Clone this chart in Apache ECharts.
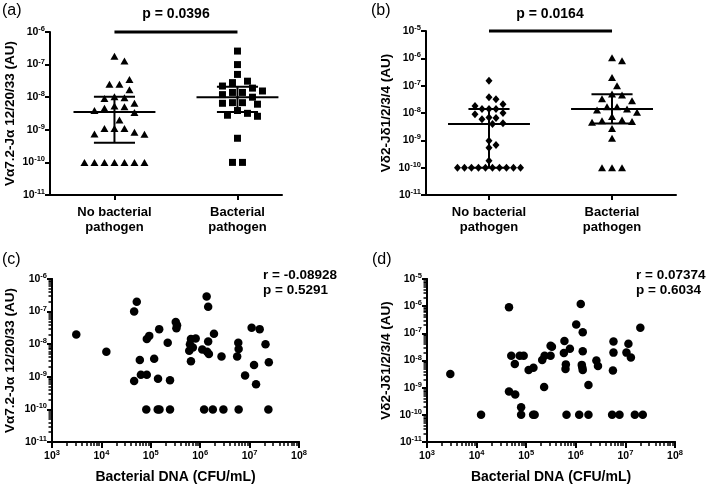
<!DOCTYPE html>
<html><head><meta charset="utf-8">
<script src="https://cdn.jsdelivr.net/npm/echarts@6/dist/echarts.min.js"></script>
<style>html,body{margin:0;padding:0;background:#fff}#c{width:709px;height:488px}</style>
</head><body><div id="c"></div>
<script>
// ---------- data ----------
const categories = ['No bacterial\npathogen', 'Bacterial\npathogen'];

// (a) Va7.2-Ja12/20/33
const aNoBact = [1.8e-7, 1.3e-7, 3.5e-8, 2.5e-8, 2.5e-8, 1.7e-8, 1.03e-8, 9.7e-9, 9.2e-9, 6.5e-9, 5.4e-9, 5.1e-9, 4.6e-9, 3.9e-9, 3.4e-9, 2.0e-9, 1.1e-9, 1.1e-9, 1.1e-9, 8.4e-10, 7.4e-10, 7.3e-10, 1e-10, 1e-10, 1e-10, 1e-10, 1e-10, 1e-10, 1e-10];
const aBact = [2.6e-7, 1.0e-7, 5.0e-8, 3.1e-8, 2.8e-8, 2.2e-8, 1.9e-8, 1.55e-8, 1.4e-8, 1.4e-8, 1.2e-8, 1.0e-8, 6.8e-9, 6.5e-9, 6.1e-9, 6.8e-9, 3.9e-9, 3.2e-9, 2.6e-9, 2.8e-9, 5.5e-10, 1e-10, 1e-10];
const aMedian = [3.5e-9, 1.0e-8];
const aQ1 = [4.0e-10, 3.5e-9];
const aQ3 = [1.03e-8, 2.1e-8];
const aPText = 'p = 0.0396';

// (b) Vd2-Jd1/2/3/4
const bNoBact = [1.5e-7, 3.8e-8, 3.2e-8, 2.1e-8, 1.8e-8, 1.4e-8, 1.4e-8, 1.4e-8, 1.0e-8, 9.0e-9, 6.8e-9, 6.5e-9, 5.9e-9, 4.2e-9, 4.0e-9, 9.6e-10, 6.7e-10, 5.3e-10, 1.8e-10, 1e-10, 1e-10, 1e-10, 1e-10, 1e-10, 1e-10, 1e-10, 1e-10, 1e-10, 1e-10];
const bBact = [1.05e-6, 8.2e-7, 2.0e-7, 1.0e-7, 5.0e-8, 4.6e-8, 3.3e-8, 2.8e-8, 1.7e-8, 1.7e-8, 1.4e-8, 1.3e-8, 1.06e-8, 7.4e-9, 5.5e-9, 5.2e-9, 4.9e-9, 4.6e-9, 2.7e-9, 1.2e-9, 1e-10, 1e-10, 1e-10];
const bMedian = [4.0e-9, 1.4e-8];
const bQ1 = [1.0e-10, 4.1e-9];
const bQ3 = [1.4e-8, 4.9e-8];
const bPText = 'p = 0.0164';

// (c) bacterial DNA vs Va7.2
const cDNA = [3.1e3, 1.26e4, 5.2e4, 4.6e4, 8.3e4, 9.3e4, 1.48e5, 6.0e4, 1.17e5, 2.2e5, 6.3e4, 8.3e4, 4.6e4, 1.4e5, 2.45e5, 3.2e5, 3.4e5, 3.3e5, 6.5e5, 8.1e5, 6.2e5, 7.1e5, 6.0e5, 6.5e5, 1.35e6, 1.45e6, 1.9e6, 1.45e6, 1.1e6, 1.38e6, 1.5e6, 2.7e6, 5.9e6, 6.0e6, 5.6e6, 1.1e7, 1.6e7, 2.1e7, 2.45e7, 1.23e7, 8.1e6, 1.35e7, 8.1e4, 1.38e5, 1.5e5, 2.45e5, 1.2e6, 1.8e6, 2.95e6, 6.0e6, 2.4e7];
const cVal = [2.0e-8, 5.9e-9, 2.0e-7, 1.0e-7, 1.45e-8, 1.8e-8, 2.9e-8, 3.3e-9, 3.6e-9, 1.1e-8, 1.15e-9, 1.15e-9, 7.4e-10, 8.7e-10, 7.8e-10, 4.8e-8, 3.8e-8, 3.1e-8, 1.45e-8, 1.5e-8, 1.0e-8, 7.9e-9, 6.3e-9, 3.0e-9, 2.9e-7, 1.4e-7, 2.1e-8, 1.2e-8, 6.9e-9, 5.9e-9, 5.0e-9, 4.2e-9, 1.1e-8, 7.1e-9, 4.2e-9, 3.2e-8, 2.9e-8, 1.0e-8, 2.8e-9, 2.3e-9, 1.1e-9, 5.9e-10, 1e-10, 1e-10, 1e-10, 1e-10, 1e-10, 1e-10, 1e-10, 1e-10, 1e-10];
const cStats = ['r = -0.08928', 'p = 0.5291'];

// (d) bacterial DNA vs Vd2
const dDNA = [2.95e3, 1.23e4, 4.5e4, 5.0e4, 5.9e4, 7.4e4, 8.9e4, 4.5e4, 6.0e4, 7.9e4, 7.9e4, 1.38e5, 1.48e5, 1.12e5, 1.4e5, 2.1e5, 2.35e5, 3.1e5, 3.1e5, 3.3e5, 2.3e5, 5.9e5, 5.75e5, 6.3e5, 6.2e5, 7.6e5, 6.5e5, 1.26e6, 1.02e6, 1.38e6, 1.38e6, 1.32e6, 1.38e6, 1.35e6, 1.17e6, 1.8e6, 1.8e6, 2.6e6, 2.8e6, 5.75e6, 5.75e6, 5.6e6, 5.4e6, 7.6e6, 1.05e7, 1.15e7, 1.29e7, 2.0e7, 1.55e7, 2.24e7];
const dVal = [3.2e-9, 1e-10, 9.1e-7, 1.5e-8, 7.4e-9, 1.5e-8, 1.5e-8, 7.2e-10, 5.6e-10, 1.9e-10, 1e-10, 1e-10, 1e-10, 4.5e-9, 5.4e-9, 1.05e-8, 1.5e-8, 1.5e-8, 3.5e-8, 3.2e-8, 1.05e-9, 5.2e-8, 1.9e-8, 7.2e-9, 4.9e-9, 2.7e-8, 1e-10, 1.2e-6, 2.1e-7, 1.1e-7, 2.2e-8, 6.9e-9, 4.5e-9, 5.6e-9, 1e-10, 1e-10, 1.26e-9, 1.0e-8, 6.3e-9, 5.0e-8, 1.95e-8, 4.3e-9, 1e-10, 1e-10, 1.95e-8, 4.1e-8, 1.3e-8, 1.6e-7, 1e-10, 1e-10];
const dStats = ['r = 0.07374', 'p = 0.6034'];

// ---------- layout / style ----------
const FONT = 'Liberation Sans, Arial, sans-serif';
const BLACK = '#000';
const G = [
  {left: 50, top: 32, width: 232, height: 163},
  {left: 426, top: 31, width: 250, height: 164},
  {left: 52, top: 279, width: 247, height: 163},
  {left: 427, top: 279, width: 248, height: 163}
];
const PX_PER_CAT = 123;

function swarm(vals, logMin, logMax, hPx, step, minD, center) {
  const y = vals.map(v => hPx * (logMax - Math.log10(v)) / (logMax - logMin));
  const off = vals.map(() => null);
  const placed = [];
  const groups = {};
  vals.forEach((v, i) => { (groups[v] = groups[v] || []).push(i); });
  Object.values(groups).forEach(g => {
    if (g.length > 1) g.forEach((i, k) => { off[i] = (k - (g.length - 1) / 2) * step; placed.push(i); });
  });
  const order = vals.map((v, i) => i).filter(i => off[i] === null).sort((a, b) => y[a] - y[b]);
  order.forEach(i => {
    for (let k = 0; k < 80; k++) {
      const c = (k % 2 === 1 ? 1 : -1) * Math.ceil(k / 2) * step / 2;
      if (placed.every(j => (off[j] - c) ** 2 + (y[j] - y[i]) ** 2 >= minD * minD)) { off[i] = c; break; }
    }
    if (off[i] === null) off[i] = 0;
    placed.push(i);
  });
  return vals.map((v, i) => [center + off[i] / PX_PER_CAT, v]);
}

const rich = {
  b: {fontSize: 10.5, fontWeight: 'bold', fontFamily: FONT, color: BLACK, lineHeight: 14},
  s: {fontSize: 7.5, fontWeight: 'bold', fontFamily: FONT, color: BLACK, verticalAlign: 'top', lineHeight: 9}
};
const supFmt = v => '{b|10}{s|' + Math.round(Math.log10(v)) + '}';
const axLine = {show: true, onZero: false, lineStyle: {color: BLACK, width: 2}};
const nameStyle = {fontFamily: FONT, fontWeight: 'bold', fontSize: 13.5, color: BLACK};

function logY(gi, min, max, name, gap) {
  return {
    gridIndex: gi, type: 'log', logBase: 10, min: min, max: max,
    splitNumber: Math.round(Math.log10(max / min)),
    axisLine: axLine,
    axisTick: {show: true, length: 5, lineStyle: {color: BLACK, width: 2}},
    splitLine: {show: false}, minorTick: {show: false},
    axisLabel: {margin: 5, formatter: supFmt, rich: rich},
    name: name, nameLocation: 'middle', nameRotate: 90, nameGap: gap, nameTextStyle: nameStyle
  };
}
function catX(gi, min, max) {
  return {
    gridIndex: gi, type: 'value', min: min, max: max,
    axisLine: axLine,
    axisTick: {show: true, customValues: [1, 2], length: 5, lineStyle: {color: BLACK, width: 2}},
    axisLabel: {customValues: [1, 2], formatter: v => categories[Math.round(v) - 1], margin: 10,
      lineHeight: 15, fontFamily: FONT, fontWeight: 'bold', fontSize: 13, color: BLACK},
    splitLine: {show: false}
  };
}
function logX(gi, name) {
  return {
    gridIndex: gi, type: 'log', logBase: 10, min: 1e3, max: 1e8, splitNumber: 5,
    axisLine: axLine,
    axisTick: {show: true, length: 6, lineStyle: {color: BLACK, width: 2}},
    splitLine: {show: false},
    axisLabel: {margin: 7, formatter: supFmt, rich: rich},
    name: name, nameLocation: 'middle', nameGap: 28, nameTextStyle: Object.assign({}, nameStyle, {fontSize: 14})
  };
}
function minorVals(lo, hi) {
  const out = [];
  for (let d = lo; d < hi; d++) for (let k = 2; k <= 9; k++) out.push(Math.pow(10, d) * k);
  return out;
}
// log axis carrying only the 2..9 minor ticks of each decade
function minorAxis(gi, lo, hi, length, pos) {
  return {
    gridIndex: gi, type: 'log', logBase: 10, min: Math.pow(10, lo), max: Math.pow(10, hi), position: pos,
    axisLine: {show: true, onZero: false, lineStyle: {color: BLACK, width: 2}},
    axisLabel: {show: false}, splitLine: {show: false},
    axisTick: {show: true, customValues: minorVals(lo, hi), length: length, lineStyle: {color: BLACK, width: 1.5}}
  };
}
function lineSeries(xi, yi, data, width) {
  return {type: 'line', xAxisIndex: xi, yAxisIndex: yi, data: data, symbol: 'none', silent: true,
    clip: false, lineStyle: {color: BLACK, width: width || 2}, z: 5, animation: false};
}
function statSeries(xi, yi, med, q1, q3) {
  const out = [];
  [0, 1].forEach(i => {
    const c = i + 1;
    out.push(lineSeries(xi, yi, [[c - 0.333, med[i]], [c + 0.333, med[i]]]));
    out.push(lineSeries(xi, yi, [[c - 0.167, q3[i]], [c + 0.167, q3[i]]]));
    out.push(lineSeries(xi, yi, [[c - 0.167, q1[i]], [c + 0.167, q1[i]]]));
    out.push(lineSeries(xi, yi, [[c, q1[i]], [c, q3[i]]]));
  });
  return out;
}
function scat(xi, yi, data, symbol, size) {
  return {type: 'scatter', xAxisIndex: xi, yAxisIndex: yi, data: data, symbol: symbol, symbolSize: size,
    itemStyle: {color: BLACK, opacity: 1}, animation: false, z: 4};
}
const zip = (xs, ys) => xs.map((x, i) => [x, ys[i]]);

const series = [
  scat(0, 0, swarm(aNoBact, -11, -6, G[0].height, 10, 8.5, 1), 'triangle', [8, 7]),
  scat(0, 0, swarm(aBact, -11, -6, G[0].height, 10, 8.5, 2), 'rect', 7),
  ...statSeries(0, 0, aMedian, aQ1, aQ3),
  lineSeries(0, 0, [[1, 1e-6], [2, 1e-6]], 3),
  scat(1, 1, swarm(bNoBact, -11, -5, G[1].height, 7, 6.5, 1), 'diamond', [7, 8]),
  scat(1, 1, swarm(bBact, -11, -5, G[1].height, 10, 8.5, 2), 'triangle', [8, 7]),
  ...statSeries(1, 1, bMedian, bQ1, bQ3),
  lineSeries(1, 1, [[1, 1e-5], [2, 1e-5]], 3),
  scat(2, 2, zip(cDNA, cVal), 'circle', 8.5),
  scat(3, 3, zip(dDNA, dVal), 'circle', 8.5),
  // empty series binding the minor-tick axes so they are laid out
  {type: 'scatter', xAxisIndex: 4, yAxisIndex: 4, data: [], silent: true},
  {type: 'scatter', xAxisIndex: 5, yAxisIndex: 5, data: [], silent: true}
];

const txt = (x, y, text, opts) => ({type: 'text', x: x, y: y, silent: true,
  style: Object.assign({text: text, fill: BLACK, fontFamily: FONT, fontSize: 13.5, fontWeight: 'bold',
    textAlign: 'left', textVerticalAlign: 'middle'}, opts || {})});

const option = {
  backgroundColor: '#fff',
  animation: false,
  grid: G.map(g => Object.assign({containLabel: false, outerBoundsMode: 'none'}, g)),
  xAxis: [catX(0, 0.476, 2.362), catX(1, 0.488, 2.52), logX(2, 'Bacterial DNA (CFU/mL)'), logX(3, 'Bacterial DNA (CFU/mL)'),
    minorAxis(2, 3, 8, 4, 'bottom'), minorAxis(3, 3, 8, 4, 'bottom')],
  yAxis: [logY(0, 1e-11, 1e-6, 'V\u03b17.2-J\u03b1 12/20/33 (AU)', 33), logY(1, 1e-11, 1e-5, 'V\u03b42-J\u03b41/2/3/4 (AU)', 33),
    logY(2, 1e-11, 1e-6, 'V\u03b17.2-J\u03b1 12/20/33 (AU)', 35), logY(3, 1e-11, 1e-5, 'V\u03b42-J\u03b41/2/3/4 (AU)', 34),
    minorAxis(2, -11, -6, 3.5, 'left'), minorAxis(3, -11, -5, 3.5, 'left')],
  series: series,
  graphic: [
    txt(2, 11, '(a)', {fontWeight: 'normal', fontSize: 16}),
    txt(371, 11, '(b)', {fontWeight: 'normal', fontSize: 16}),
    txt(2, 260, '(c)', {fontWeight: 'normal', fontSize: 16}),
    txt(372, 260, '(d)', {fontWeight: 'normal', fontSize: 16}),
    txt(176, 14, aPText, {textAlign: 'center', fontSize: 14}),
    txt(550, 14, bPText, {textAlign: 'center', fontSize: 14}),
    txt(263, 275, cStats[0]), txt(263, 290, cStats[1]),
    txt(636, 275, dStats[0]), txt(636, 290, dStats[1])
  ]
};
const chart = echarts.init(document.getElementById('c'), null, {renderer: 'canvas'});
chart.setOption(option);
</script></body></html>
